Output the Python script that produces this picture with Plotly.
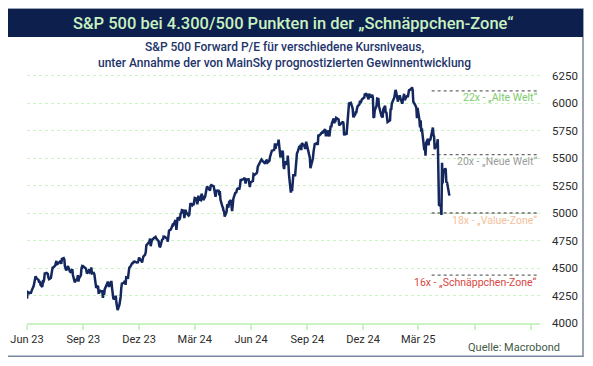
import plotly.graph_objects as go

# ---------------- data ----------------
dates = [
 "2023-06-01","2023-06-02","2023-06-05","2023-06-06","2023-06-07","2023-06-08","2023-06-09","2023-06-12","2023-06-13","2023-06-14","2023-06-15","2023-06-16","2023-06-20","2023-06-21","2023-06-22","2023-06-23","2023-06-26","2023-06-27","2023-06-28","2023-06-29","2023-06-30",
 "2023-07-03","2023-07-05","2023-07-06","2023-07-07","2023-07-10","2023-07-11","2023-07-12","2023-07-13","2023-07-14","2023-07-17","2023-07-18","2023-07-19","2023-07-20","2023-07-21","2023-07-24","2023-07-25","2023-07-26","2023-07-27","2023-07-28","2023-07-31",
 "2023-08-01","2023-08-02","2023-08-03","2023-08-04","2023-08-07","2023-08-08","2023-08-09","2023-08-10","2023-08-11","2023-08-14","2023-08-15","2023-08-16","2023-08-17","2023-08-18","2023-08-21","2023-08-22","2023-08-23","2023-08-24","2023-08-25","2023-08-28","2023-08-29","2023-08-30","2023-08-31",
 "2023-09-01","2023-09-05","2023-09-06","2023-09-07","2023-09-08","2023-09-11","2023-09-12","2023-09-13","2023-09-14","2023-09-15","2023-09-18","2023-09-19","2023-09-20","2023-09-21","2023-09-22","2023-09-25","2023-09-26","2023-09-27","2023-09-28","2023-09-29",
 "2023-10-02","2023-10-03","2023-10-04","2023-10-05","2023-10-06","2023-10-09","2023-10-10","2023-10-11","2023-10-12","2023-10-13","2023-10-16","2023-10-17","2023-10-18","2023-10-19","2023-10-20","2023-10-23","2023-10-24","2023-10-25","2023-10-26","2023-10-27","2023-10-30","2023-10-31",
 "2023-11-01","2023-11-02","2023-11-03","2023-11-06","2023-11-07","2023-11-08","2023-11-09","2023-11-10","2023-11-13","2023-11-14","2023-11-15","2023-11-16","2023-11-17","2023-11-20","2023-11-21","2023-11-22","2023-11-24","2023-11-27","2023-11-28","2023-11-29","2023-11-30",
 "2023-12-01","2023-12-04","2023-12-05","2023-12-06","2023-12-07","2023-12-08","2023-12-11","2023-12-12","2023-12-13","2023-12-14","2023-12-15","2023-12-18","2023-12-19","2023-12-20","2023-12-21","2023-12-22","2023-12-26","2023-12-27","2023-12-28","2023-12-29",
 "2024-01-02","2024-01-03","2024-01-04","2024-01-05","2024-01-08","2024-01-09","2024-01-10","2024-01-11","2024-01-12","2024-01-16","2024-01-17","2024-01-18","2024-01-19","2024-01-22","2024-01-23","2024-01-24","2024-01-25","2024-01-26","2024-01-29","2024-01-30","2024-01-31",
 "2024-02-01","2024-02-02","2024-02-05","2024-02-06","2024-02-07","2024-02-08","2024-02-09","2024-02-12","2024-02-13","2024-02-14","2024-02-15","2024-02-16","2024-02-20","2024-02-21","2024-02-22","2024-02-23","2024-02-26","2024-02-27","2024-02-28","2024-02-29",
 "2024-03-01","2024-03-04","2024-03-05","2024-03-06","2024-03-07","2024-03-08","2024-03-11","2024-03-12","2024-03-13","2024-03-14","2024-03-15","2024-03-18","2024-03-19","2024-03-20","2024-03-21","2024-03-22","2024-03-25","2024-03-26","2024-03-27","2024-03-28",
 "2024-04-01","2024-04-02","2024-04-03","2024-04-04","2024-04-05","2024-04-08","2024-04-09","2024-04-10","2024-04-11","2024-04-12","2024-04-15","2024-04-16","2024-04-17","2024-04-18","2024-04-19","2024-04-22","2024-04-23","2024-04-24","2024-04-25","2024-04-26","2024-04-29","2024-04-30",
 "2024-05-01","2024-05-02","2024-05-03","2024-05-06","2024-05-07","2024-05-08","2024-05-09","2024-05-10","2024-05-13","2024-05-14","2024-05-15","2024-05-16","2024-05-17","2024-05-20","2024-05-21","2024-05-22","2024-05-23","2024-05-24","2024-05-28","2024-05-29","2024-05-30","2024-05-31",
 "2024-06-03","2024-06-04","2024-06-05","2024-06-06","2024-06-07","2024-06-10","2024-06-11","2024-06-12","2024-06-13","2024-06-14","2024-06-17","2024-06-18","2024-06-20","2024-06-21","2024-06-24","2024-06-25","2024-06-26","2024-06-27","2024-06-28",
 "2024-07-01","2024-07-02","2024-07-03","2024-07-05","2024-07-08","2024-07-09","2024-07-10","2024-07-11","2024-07-12","2024-07-15","2024-07-16","2024-07-17","2024-07-18","2024-07-19","2024-07-22","2024-07-23","2024-07-24","2024-07-25","2024-07-26","2024-07-29","2024-07-30","2024-07-31",
 "2024-08-01","2024-08-02","2024-08-05","2024-08-06","2024-08-07","2024-08-08","2024-08-09","2024-08-12","2024-08-13","2024-08-14","2024-08-15","2024-08-16","2024-08-19","2024-08-20","2024-08-21","2024-08-22","2024-08-23","2024-08-26","2024-08-27","2024-08-28","2024-08-29","2024-08-30",
 "2024-09-03","2024-09-04","2024-09-05","2024-09-06","2024-09-09","2024-09-10","2024-09-11","2024-09-12","2024-09-13","2024-09-16","2024-09-17","2024-09-18","2024-09-19","2024-09-20","2024-09-23","2024-09-24","2024-09-25","2024-09-26","2024-09-27","2024-09-30",
 "2024-10-01","2024-10-02","2024-10-03","2024-10-04","2024-10-07","2024-10-08","2024-10-09","2024-10-10","2024-10-11","2024-10-14","2024-10-15","2024-10-16","2024-10-17","2024-10-18","2024-10-21","2024-10-22","2024-10-23","2024-10-24","2024-10-25","2024-10-28","2024-10-29","2024-10-30","2024-10-31",
 "2024-11-01","2024-11-04","2024-11-05","2024-11-06","2024-11-07","2024-11-08","2024-11-11","2024-11-12","2024-11-13","2024-11-14","2024-11-15","2024-11-18","2024-11-19","2024-11-20","2024-11-21","2024-11-22","2024-11-25","2024-11-26","2024-11-27","2024-11-29",
 "2024-12-02","2024-12-03","2024-12-04","2024-12-05","2024-12-06","2024-12-09","2024-12-10","2024-12-11","2024-12-12","2024-12-13","2024-12-16","2024-12-17","2024-12-18","2024-12-19","2024-12-20","2024-12-23","2024-12-24","2024-12-26","2024-12-27","2024-12-30","2024-12-31",
 "2025-01-02","2025-01-03","2025-01-06","2025-01-07","2025-01-08","2025-01-10","2025-01-13","2025-01-14","2025-01-15","2025-01-16","2025-01-17","2025-01-21","2025-01-22","2025-01-23","2025-01-24","2025-01-27","2025-01-28","2025-01-29","2025-01-30","2025-01-31",
 "2025-02-03","2025-02-04","2025-02-05","2025-02-06","2025-02-07","2025-02-10","2025-02-11","2025-02-12","2025-02-13","2025-02-14","2025-02-18","2025-02-19","2025-02-20","2025-02-21","2025-02-24","2025-02-25","2025-02-26","2025-02-27","2025-02-28",
 "2025-03-03","2025-03-04","2025-03-05","2025-03-06","2025-03-07","2025-03-10","2025-03-11","2025-03-12","2025-03-13","2025-03-14","2025-03-17","2025-03-18","2025-03-19","2025-03-20","2025-03-21","2025-03-24","2025-03-25","2025-03-26","2025-03-27","2025-03-28","2025-03-31",
 "2025-04-01","2025-04-02","2025-04-03","2025-04-04","2025-04-07","2025-04-08","2025-04-09","2025-04-10","2025-04-11","2025-04-14","2025-04-15","2025-04-16","2025-04-17","2025-04-21",
]

sp500 = [
 4221,4282,4273,4283,4267,4293,4299,4338,4369,4373,4426,4410,4389,4366,4382,4348,4328,4378,4376,4396,4450,
 4455,4446,4412,4399,4410,4440,4473,4510,4505,4522,4555,4565,4534,4536,4554,4567,4566,4537,4582,4589,
 4577,4513,4502,4478,4518,4499,4468,4468,4464,4490,4437,4404,4370,4370,4400,4388,4436,4376,4406,4433,4497,4514,4508,
 4516,4497,4465,4451,4457,4487,4462,4467,4505,4450,4454,4444,4402,4330,4320,4337,4274,4275,4300,4288,
 4288,4229,4263,4258,4308,4336,4358,4377,4350,4328,4373,4373,4315,4278,4224,4217,4248,4186,4137,4117,4167,4194,
 4237,4318,4358,4365,4378,4383,4347,4415,4411,4496,4502,4509,4514,4547,4538,4557,4559,4550,4555,4551,4568,
 4595,4569,4567,4549,4585,4604,4622,4644,4707,4720,4719,4740,4768,4698,4747,4755,4775,4782,4783,4770,
 4743,4705,4689,4697,4764,4757,4783,4780,4784,4766,4739,4781,4840,4851,4865,4869,4894,4891,4928,4925,4846,
 4906,4959,4943,4954,4995,4998,5027,5022,4953,5001,5030,5006,4976,4982,5087,5089,5070,5078,5070,5096,
 5137,5131,5079,5105,5157,5124,5117,5175,5165,5150,5117,5149,5179,5225,5241,5234,5218,5204,5248,5254,
 5243,5205,5211,5147,5204,5202,5209,5161,5199,5123,5061,5051,5022,5011,4967,5011,5071,5072,5048,5100,5116,5036,
 5018,5064,5128,5181,5187,5188,5214,5223,5221,5247,5308,5297,5303,5308,5321,5307,5268,5305,5306,5267,5236,5278,
 5283,5291,5354,5353,5347,5361,5375,5421,5434,5431,5473,5487,5473,5465,5448,5469,5478,5483,5460,
 5475,5509,5537,5567,5572,5577,5633,5585,5615,5631,5667,5589,5545,5505,5564,5556,5427,5399,5459,5464,5436,5522,
 5446,5347,5186,5240,5199,5319,5344,5344,5435,5455,5543,5554,5608,5597,5620,5571,5635,5616,5626,5592,5592,5648,
 5529,5520,5503,5408,5471,5496,5554,5596,5626,5634,5634,5618,5714,5703,5719,5732,5722,5745,5738,5762,
 5709,5710,5700,5751,5696,5751,5793,5780,5815,5859,5815,5843,5841,5865,5853,5851,5797,5809,5808,5823,5832,5813,5705,
 5729,5712,5782,5929,5973,5996,6001,5984,5985,5949,5871,5893,5917,5917,5948,5969,5987,6021,5999,6032,
 6047,6050,6087,6075,6090,6053,6034,6085,6051,6051,6074,6050,5872,5867,5931,5975,6040,6037,5971,5907,5882,
 5869,5942,5975,5909,5918,5827,5836,5843,5950,5937,5997,6049,6086,6119,6101,6012,6068,6039,6071,6041,
 5994,6037,6061,6084,6026,6066,6068,6052,6115,6115,6129,6144,6117,6013,5983,5955,5956,5861,5955,
 5849,5779,5843,5739,5770,5615,5572,5599,5522,5639,5675,5615,5675,5663,5668,5768,5777,5712,5693,5581,5612,
 5633,5671,5397,5074,5062,4982,5457,5268,5363,5406,5397,5276,5283,5158,
]

# P/E reference levels (index level implied)
ref_labels = ["22x - \u201eAlte Welt\u201c", "20x - \u201eNeue Welt\u201c",
              "18x - \u201eValue-Zone\u201c", "16x - \u201eSchn\u00e4ppchen-Zone\u201c"]
ref_levels = [6110, 5530, 5000, 4435]
ref_colors = ["#7dcc6c", "#9c9c9c", "#f4c09c", "#d9463f"]
ref_span = ["2025-03-23", "2025-09-13"]

tick_dates = ["2023-06-01", "2023-09-01", "2023-12-01", "2024-03-01", "2024-06-01",
              "2024-09-01", "2024-12-01", "2025-03-01", "2025-06-01", "2025-09-01"]
tick_labels = ["Jun 23", "Sep 23", "Dez 23", "M\u00e4r 24", "Jun 24",
               "Sep 24", "Dez 24", "M\u00e4r 25", "", ""]
y_ticks = [4000, 4250, 4500, 4750, 5000, 5250, 5500, 5750, 6000, 6250]

title = "S&P 500 bei 4.300/500 Punkten in der \u201eSchn\u00e4ppchen-Zone\u201c"
subtitle = ("S&P 500 Forward P/E f\u00fcr verschiedene Kursniveaus,<br>"
            "unter Annahme der von MainSky prognostizierten Gewinnentwicklung")
source = "Quelle: Macrobond"

# ---------------- figure ----------------
W, H = 593, 366
OFF = 8                      # page body margin of the html page
# plot area in page pixels: x 27..540, y 70..322.7
PL, PR, PT, PB = 27, 540, 70, 322.7
ML, MT = PL - OFF, PT - OFF
MR, MB = W - (PR - OFF), H - (PB - OFF)
PW, PH = PR - PL, PB - PT

def px(x):
    return (x - PL) / PW

def py(y):
    return (PB - y) / PH

FONT = "Roboto, Inter, sans-serif"
NAVY = "#14275e"

fig = go.Figure()

for lvl in ref_levels:
    fig.add_trace(go.Scatter(
        x=ref_span, y=[lvl, lvl], mode="lines",
        line=dict(color="#6a6a6a", width=1.3, dash="dot"),
        hoverinfo="skip", showlegend=False))

fig.add_trace(go.Scatter(
    x=dates, y=sp500, mode="lines",
    line=dict(color=NAVY, width=2.5),
    showlegend=False, name="S&P 500"))

for lbl, lvl, col in zip(ref_labels, ref_levels, ref_colors):
    fig.add_annotation(
        x=px(539), xref="paper", y=lvl, yref="y", yshift=-7,
        text=lbl, showarrow=False, xanchor="right", yanchor="middle",
        font=dict(family=FONT, size=10.5, color=col))

# frame and title bar
fig.add_shape(type="rect", xref="paper", yref="paper",
              x0=px(6), x1=px(583), y0=py(356), y1=py(9),
              line=dict(color="#7b86a0", width=1.5), fillcolor="rgba(0,0,0,0)",
              layer="below")
fig.add_shape(type="rect", xref="paper", yref="paper",
              x0=px(6), x1=px(583), y0=py(37), y1=py(9),
              line=dict(width=0), fillcolor="#0d1f4c")

fig.add_annotation(x=px(293), y=py(23.5), xref="paper", yref="paper",
                   text=title, showarrow=False, xanchor="center", yanchor="middle",
                   font=dict(family=FONT, size=16.5, color="#c8f2c2", weight=500))
fig.add_annotation(x=px(284), y=py(55.5), xref="paper", yref="paper",
                   text=subtitle, showarrow=False, xanchor="center", yanchor="middle",
                   font=dict(family=FONT, size=12, color="#23346a", weight=500))
fig.add_annotation(x=px(562), y=py(347), xref="paper", yref="paper",
                   text=source, showarrow=False, xanchor="right", yanchor="middle",
                   font=dict(family=FONT, size=11, color="#3f5a44"))

fig.update_xaxes(
    range=["2023-06-01", "2025-09-16"], automargin=False,
    tickmode="array", tickvals=tick_dates, ticktext=tick_labels,
    showgrid=False, zeroline=False,
    showline=True, linecolor="#c9f3c1", linewidth=2,
    ticks="outside", tickcolor="#c9f3c1", ticklen=5, tickwidth=1.5,
    tickfont=dict(family=FONT, size=11, color="#2b2b2b"),
)
fig.update_yaxes(
    range=[4000, 6300], side="right", automargin=False,
    tickmode="array", tickvals=y_ticks,
    showgrid=True, gridcolor="#c9f3c1", griddash="dot", gridwidth=1,
    zeroline=False, showline=False, ticks="", ticklabelstandoff=11,
    tickfont=dict(family=FONT, size=11.5, color="#2b2b2b"),
)

fig.update_layout(
    width=W, height=H,
    margin=dict(l=ML, r=MR, t=MT, b=MB, pad=0),
    paper_bgcolor="white", plot_bgcolor="white",
    showlegend=False,
)

fig.write_html("out.html")
